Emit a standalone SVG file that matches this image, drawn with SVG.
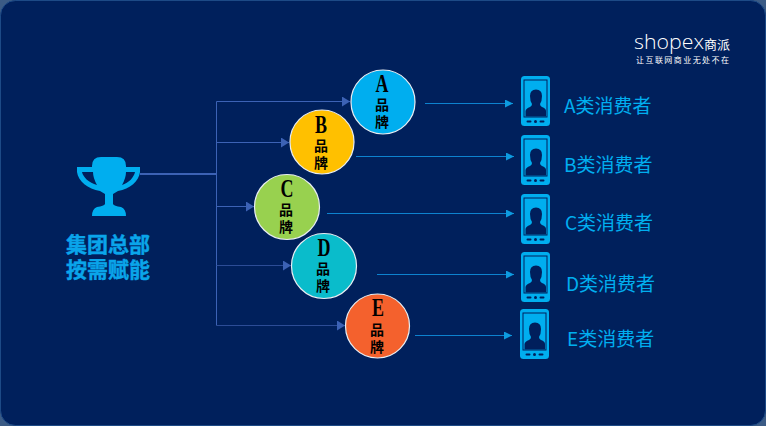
<svg xmlns="http://www.w3.org/2000/svg" width="766" height="426" viewBox="0 0 766 426">
<style>
.brand{font-family:"Liberation Serif","Noto Sans CJK SC",serif;font-weight:700;fill:#000;text-anchor:middle}
.l{font-size:25px}.c{font-size:14px}
.node{stroke:#e8edf2;stroke-width:1.2}
.cons{font-family:"Noto Sans CJK SC","Noto Sans",sans-serif;font-size:19px;fill:#00aeef}
.hq{font-family:"Liberation Sans","Noto Sans CJK SC",sans-serif;font-size:21px;font-weight:700;fill:#0aa5ea;stroke:#0aa5ea;stroke-width:.4;text-anchor:middle}
.t{stroke:#3c62b5;stroke-width:1;fill:none}
.b{stroke:#0d82cf;stroke-width:1;fill:none}
</style>
<defs>
<marker id="a1" markerUnits="userSpaceOnUse" markerWidth="9" markerHeight="10" refX="8" refY="5" orient="auto"><path d="M0 0L8 5L0 10Z" fill="#3c62b5"/></marker>
<marker id="a2" markerUnits="userSpaceOnUse" markerWidth="9" markerHeight="8" refX="8" refY="4" orient="auto"><path d="M0 0L8 4L0 8Z" fill="#0d9be0"/></marker>
<g id="phone">
<rect x="0" y="0" width="29" height="50" rx="3.500" fill="#00aeef"/>
<rect x="3" y="4" width="23" height="37" fill="#00aeef" stroke="#001f5c" stroke-width="1"/>
<path d="M4.500 40.500V35Q5 32.500 9 31Q11 30 11 28Q9 25 9 20Q9 13.500 15 13.500Q21 13.500 21 20Q21 25 19 28Q19 30 21 31Q25 32.500 25 35V40.500Z" fill="#001f5c"/>
<rect x="5.500" y="44.500" width="5" height="2" rx="1" fill="#001f5c"/><circle cx="14.500" cy="45.500" r="1.500" fill="#001f5c"/><rect x="18.500" y="44.500" width="5" height="2" rx="1" fill="#001f5c"/>
</g>
</defs>
<rect width="766" height="426" fill="#3b5b85"/>
<rect x="0.500" y="0.500" width="765" height="425" rx="15" fill="#00205c" stroke="#1d4a86"/>

<g id="connectors">
<path class="t" d="M140 174H216" style="stroke-width:2"/>
<path class="t" d="M216.500 101.500V325.500"/>
<path class="t" d="M216.500 101.500H350" marker-end="url(#a1)"/>
<path class="t" d="M216.500 142.500H289" marker-end="url(#a1)"/>
<path class="t" d="M216.500 206.500H254" marker-end="url(#a1)"/>
<path class="t" d="M216.500 265.500H291" marker-end="url(#a1)" style="stroke:#2c4c96"/>
<path class="t" d="M216.500 325.500H345" marker-end="url(#a1)" style="stroke:#2c4c96"/>
<path class="b" d="M425 103.500H513" marker-end="url(#a2)"/>
<path class="b" d="M356 156.500H514" marker-end="url(#a2)"/>
<path class="b" d="M327 213.500H514" marker-end="url(#a2)"/>
<path class="b" d="M377 274.500H514" marker-end="url(#a2)"/>
<path class="b" d="M415 335.500H512" marker-end="url(#a2)"/>
</g>

<g id="hq">
<path d="M92 166Q92 157 101 157H117Q126 157 126 166V167H140V172C139 181 130 189 118 191L113 194V204Q114 206 121 207Q126 209 126 216H92Q92 209 97 207Q104 206 105 204V194L100 191C88 189 78 181 77 172V167H92ZM82 172C83 177 89 183 97 185Q93 178 93 172ZM135 172H126Q126 178 122 185C129 183 134 177 135 172Z" fill="#00aeef" fill-rule="evenodd"/>
<text class="hq" x="108" y="252">集团总部</text>
<text class="hq" x="108" y="277">按需赋能</text>
</g>

<g id="brand-a"><circle class="node" cx="383" cy="102" r="32" fill="#00aeef"/><text class="brand l" x="382" y="92" textLength="13" lengthAdjust="spacingAndGlyphs">A</text><text class="brand c" x="382" y="110">品</text><text class="brand c" x="382" y="127">牌</text></g>
<g id="brand-b"><circle class="node" cx="322" cy="142" r="32" fill="#ffc000"/><text class="brand l" x="321" y="133" textLength="12" lengthAdjust="spacingAndGlyphs">B</text><text class="brand c" x="321" y="151">品</text><text class="brand c" x="321" y="168">牌</text></g>
<g id="brand-c"><circle class="node" cx="287" cy="207" r="32.500" fill="#98d14f"/><text class="brand l" x="287" y="197" textLength="13" lengthAdjust="spacingAndGlyphs">C</text><text class="brand c" x="286" y="215">品</text><text class="brand c" x="286" y="232">牌</text></g>
<g id="brand-d"><circle class="node" cx="324" cy="266" r="32.500" fill="#0abccb"/><text class="brand l" x="324" y="256" textLength="13" lengthAdjust="spacingAndGlyphs">D</text><text class="brand c" x="323" y="274">品</text><text class="brand c" x="323" y="291">牌</text></g>
<g id="brand-e"><circle class="node" cx="377.500" cy="326" r="32" fill="#f4612d"/><text class="brand l" x="378" y="316" textLength="12" lengthAdjust="spacingAndGlyphs">E</text><text class="brand c" x="377" y="335">品</text><text class="brand c" x="377" y="352">牌</text></g>

<g id="consumer-a"><use href="#phone" x="521" y="76"/><text class="cons" x="564" y="113">A类消费者</text></g>
<g id="consumer-b"><use href="#phone" x="521" y="135"/><text class="cons" x="564" y="172">B类消费者</text></g>
<g id="consumer-c"><use href="#phone" x="521" y="194"/><text class="cons" x="565" y="230">C类消费者</text></g>
<g id="consumer-d"><use href="#phone" x="521" y="252"/><text class="cons" x="566" y="291">D类消费者</text></g>
<g id="consumer-e"><use href="#phone" x="520" y="309"/><text class="cons" x="567" y="346">E类消费者</text></g>

<g id="logo">
<text x="634" y="49" font-family="'Open Sans',sans-serif" font-weight="300" font-size="20" fill="#fff" textLength="70" lengthAdjust="spacingAndGlyphs">shopex</text>
<text x="704" y="49" font-family="'Noto Sans CJK SC',sans-serif" font-size="13" fill="#fff">商派</text>
<text x="636" y="63" font-family="'Noto Sans CJK SC',sans-serif" font-size="8" fill="#fff" textLength="93">让互联网商业无处不在</text>
</g>
</svg>
